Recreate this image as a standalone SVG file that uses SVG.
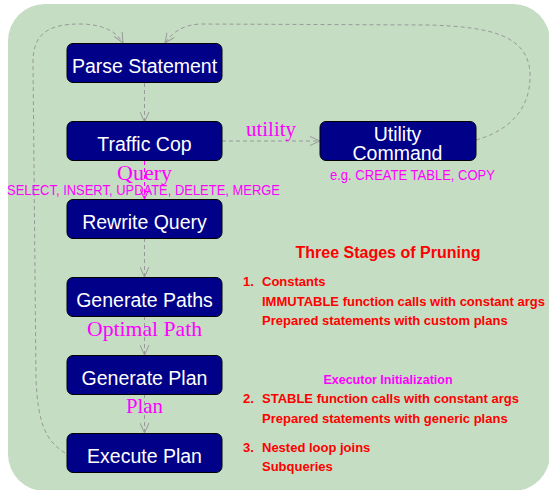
<svg xmlns="http://www.w3.org/2000/svg" width="549" height="490" viewBox="0 0 549 490">
  <defs>
    <marker id="arrow" viewBox="0 0 10 10" refX="10" refY="5" markerWidth="10" markerHeight="10" markerUnits="userSpaceOnUse" orient="auto">
      <path d="M0,0.5 L10,5 L0,9.5" fill="none" stroke="#999999" stroke-width="1"/>
    </marker>
    <marker id="arrow-mag" viewBox="0 0 10 10" refX="10" refY="5" markerWidth="10" markerHeight="10" markerUnits="userSpaceOnUse" orient="auto">
      <path d="M0,0.5 L10,5 L0,9.5" fill="none" stroke="#ff00ff" stroke-width="1"/>
    </marker>
  </defs>
  <style>
    .node rect { fill: #000088; stroke: #000000; stroke-width: 1; }
    .node text { fill: #ffffff; font-family: "Liberation Sans", Arial, sans-serif; font-size: 19.5px; text-anchor: middle; }
    .edge { fill: none; stroke: #999999; stroke-width: 1; stroke-dasharray: 4 3; marker-end: url(#arrow); }
    .edge.mag { stroke: #ff00ff; marker-end: url(#arrow-mag); }
    .lbl { fill: #ff00ff; font-family: "Liberation Serif", "Times New Roman", serif; font-size: 21px; text-anchor: middle; }
    .note { fill: #ff00ff; font-family: "Liberation Sans", Arial, sans-serif; font-size: 14px; }
    .red { fill: #ff0000; font-family: "Liberation Sans", Arial, sans-serif; font-size: 13px; font-weight: bold; }
  </style>

  <!-- panel background -->
  <rect x="8" y="4" width="542" height="487" rx="37" ry="37" fill="#c5ddc3"/>

  <!-- connectors -->
  <g id="connectors">
    <line class="edge" x1="144.5" y1="83" x2="144.5" y2="122"/>
    <line class="edge mag" x1="144.5" y1="161" x2="144.5" y2="199"/>
    <line class="edge" x1="144.5" y1="238" x2="144.5" y2="277"/>
    <line class="edge" x1="144.5" y1="316" x2="144.5" y2="355"/>
    <line class="edge" x1="144.5" y1="394" x2="144.5" y2="433"/>
    <line class="edge" x1="222" y1="141" x2="320" y2="141"/>
    <path class="edge" d="M476,140 C505,132 532,112 530,72 C527,35 490,27 430,25 L200,24 C182,25 172,33 165,43"/>
    <path class="edge" d="M65,453 C44,440 38,420 36,380 L33,62 C33,34 48,24 80,24 C103,24 117,32 123,43"/>
  </g>

  <!-- connector labels -->
  <text class="lbl" x="271" y="136" textLength="50" lengthAdjust="spacingAndGlyphs">utility</text>
  <text class="lbl" x="144.5" y="180" textLength="55" lengthAdjust="spacingAndGlyphs">Query</text>
  <text class="note" x="7" y="195" textLength="273" lengthAdjust="spacingAndGlyphs">SELECT, INSERT, UPDATE, DELETE, MERGE</text>
  <text class="lbl" x="144.5" y="336" textLength="115" lengthAdjust="spacingAndGlyphs">Optimal Path</text>
  <text class="lbl" x="144.5" y="413" textLength="37" lengthAdjust="spacingAndGlyphs">Plan</text>

  <!-- nodes -->
  <g id="parse" class="node">
    <rect x="67" y="43.5" width="155" height="39" rx="6"/>
    <text x="144.5" y="73">Parse Statement</text>
  </g>
  <g id="traffic" class="node">
    <rect x="67" y="121.5" width="155" height="39" rx="6"/>
    <text x="144.5" y="151">Traffic Cop</text>
  </g>
  <g id="rewrite" class="node">
    <rect x="67" y="199.5" width="155" height="39" rx="6"/>
    <text x="144.5" y="229">Rewrite Query</text>
  </g>
  <g id="paths" class="node">
    <rect x="67" y="277.5" width="155" height="39" rx="6"/>
    <text x="144.5" y="307">Generate Paths</text>
  </g>
  <g id="plan" class="node">
    <rect x="67" y="355.5" width="155" height="39" rx="6"/>
    <text x="144.5" y="385">Generate Plan</text>
  </g>
  <g id="execute" class="node">
    <rect x="67" y="433.5" width="155" height="39" rx="6"/>
    <text x="144.5" y="463">Execute Plan</text>
  </g>
  <g id="utility" class="node">
    <rect x="320" y="121.5" width="156" height="39" rx="6"/>
    <text x="397.5" y="141">Utility</text>
    <text x="397.5" y="160">Command</text>
  </g>

  <text class="note" x="330" y="180" textLength="165" lengthAdjust="spacingAndGlyphs">e.g. CREATE TABLE, COPY</text>

  <!-- pruning notes -->
  <text class="red" x="388" y="258" text-anchor="middle" style="font-size:16px">Three Stages of Pruning</text>
  <text class="red" x="243" y="286">1.</text>
  <text class="red" x="262" y="286">Constants</text>
  <text class="red" x="262" y="306">IMMUTABLE function calls with constant args</text>
  <text class="red" x="262" y="325">Prepared statements with custom plans</text>

  <text class="note" x="388" y="384" text-anchor="middle" style="font-weight:bold;font-size:12.5px">Executor Initialization</text>
  <text class="red" x="243" y="403">2.</text>
  <text class="red" x="262" y="403">STABLE function calls with constant args</text>
  <text class="red" x="262" y="423">Prepared statements with generic plans</text>
  <text class="red" x="243" y="452">3.</text>
  <text class="red" x="262" y="452">Nested loop joins</text>
  <text class="red" x="262" y="471">Subqueries</text>
</svg>
